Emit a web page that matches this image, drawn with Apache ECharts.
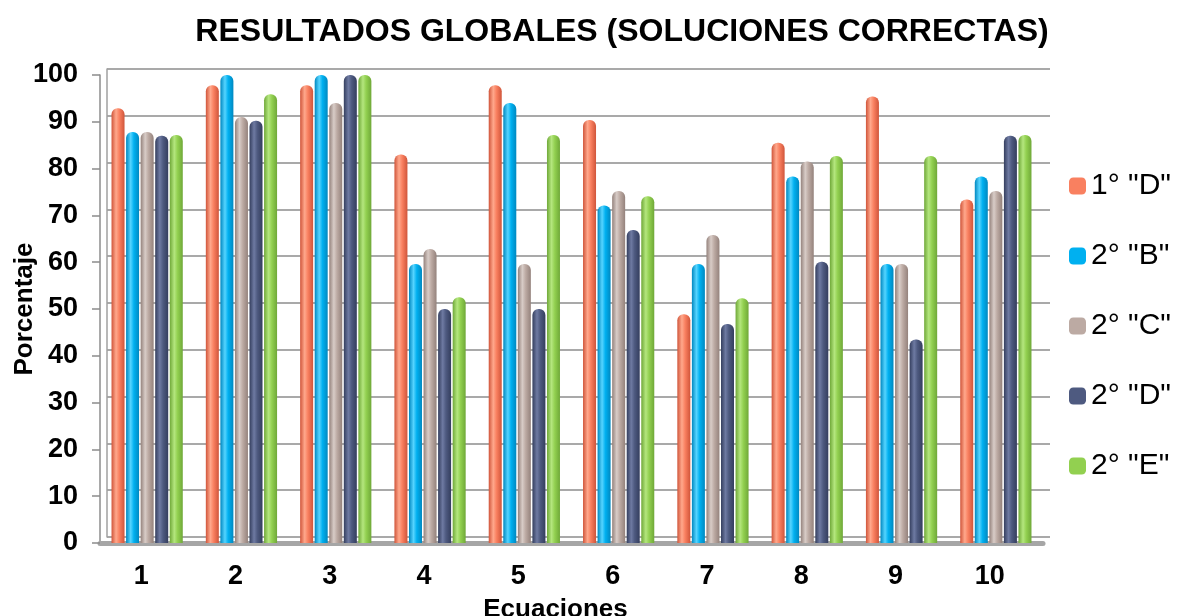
<!DOCTYPE html>
<html>
<head>
<meta charset="utf-8">
<script src="https://cdn.jsdelivr.net/npm/echarts@6/dist/echarts.min.js"></script>
<style>
  html, body { margin: 0; padding: 0; background: #fff; }
  #chart { width: 1182px; height: 616px; }
</style>
</head>
<body>
<div id="chart"></div>
<script>
// datos
const ecuaciones = ["1", "2", "3", "4", "5", "6", "7", "8", "9", "10"];
const grupos = ['1° "D"', '2° "B"', '2° "C"', '2° "D"', '2° "E"'];
const primeroD = [92.9, 97.8, 97.8, 83.0, 97.8, 90.4, 48.9, 85.5, 95.4, 73.4];
const segundoB = [87.8, 100, 100, 59.6, 94.0, 72.1, 59.6, 78.3, 59.6, 78.3];
const segundoC = [87.8, 91.0, 94.0, 62.8, 59.6, 75.2, 65.8, 81.5, 59.6, 75.2];
const segundoD = [87.0, 90.2, 100, 50.0, 50.0, 66.9, 46.8, 60.1, 43.5, 87.0];
const segundoE = [87.2, 95.9, 100, 52.5, 87.2, 74.1, 52.3, 82.7, 82.7, 87.2];
const yTicks = [0, 10, 20, 30, 40, 50, 60, 70, 80, 90, 100];

const colores = ["#F98060", "#00B0F0", "#BCAAA3", "#4E5A80", "#92D050"];
const sombras = ["#D0553A", "#0088C0", "#94827C", "#343E5E", "#6FA838"];
const claros = ["#FFA88C", "#55D4FF", "#D8CCC7", "#6E7AA2", "#B4E67E"];

const fuente = "Liberation Sans";

const chart = echarts.init(document.getElementById("chart"));

function cilindro(i) {
  return new echarts.graphic.LinearGradient(0, 0, 1, 0, [
    { offset: 0, color: sombras[i] },
    { offset: 0.35, color: claros[i] },
    { offset: 0.6, color: colores[i] },
    { offset: 1, color: sombras[i] },
  ]);
}

const valores = [primeroD, segundoB, segundoC, segundoD, segundoE];

const option = {
  backgroundColor: "#fff",
  animation: false,
  title: {
    text: "RESULTADOS GLOBALES (SOLUCIONES CORRECTAS)",
    left: 617,
    textAlign: "center",
    top: 11,
    textStyle: {
      fontFamily: fuente,
      fontSize: 32,
      fontWeight: "bold",
      color: "#000",
    },
  },
  legend: {
    orient: "vertical",
    left: 1064,
    top: 166,
    itemWidth: 17,
    itemHeight: 17,
    itemGap: 40,
    data: grupos.map((g, i) => ({
      name: g,
      itemStyle: { color: colores[i] },
    })),
    textStyle: {
      fontFamily: fuente,
      fontSize: 30,
      color: "#000",
    },
  },
  grid: [
    // barras (frente)
    { left: 100, right: 139, top: 75, bottom: 73, outerBoundsMode: "none" },
    // pared del fondo
    { left: 107, right: 132, top: 69, bottom: 79, outerBoundsMode: "none" },
  ],
  xAxis: [
    {
      type: "category",
      gridIndex: 0,
      data: ecuaciones,
      axisTick: { show: false },
      axisLine: { show: true, lineStyle: { color: "#A6A6A6", width: 5 } },
      axisLabel: {
        fontFamily: fuente,
        fontSize: 27,
        fontWeight: "bold",
        color: "#000",
        margin: 20,
        padding: [0, 12, 0, 0],
      },
      name: "Ecuaciones",
      nameLocation: "middle",
      nameGap: 54,
      nameMoveOverlap: false,
      nameTextStyle: {
        fontFamily: fuente,
        fontSize: 26,
        fontWeight: "bold",
        color: "#000",
        padding: [0, 32, 0, 0],
      },
    },
    {
      type: "category",
      gridIndex: 1,
      data: ecuaciones,
      show: false,
    },
  ],
  yAxis: [
    {
      type: "value",
      gridIndex: 0,
      min: 0,
      max: 100,
      interval: 10,
      splitLine: { show: false },
      axisLine: { show: true, lineStyle: { color: "#8C8C8C", width: 1.5 } },
      axisTick: { show: true, length: 8, lineStyle: { color: "#8C8C8C", width: 1.5 } },
      axisLabel: {
        fontFamily: fuente,
        fontSize: 27,
        fontWeight: "bold",
        color: "#000",
        margin: 22,
        customValues: yTicks,
      },
      name: "Porcentaje",
      nameLocation: "middle",
      nameGap: 62,
      nameMoveOverlap: false,
      nameTextStyle: {
        fontFamily: fuente,
        fontSize: 26,
        fontWeight: "bold",
        color: "#000",
      },
    },
    {
      type: "value",
      gridIndex: 1,
      min: 0,
      max: 100,
      interval: 10,
      axisLabel: { show: false },
      axisTick: { show: false },
      axisLine: { show: true, lineStyle: { color: "#A0A0A0", width: 1.5 } },
      splitLine: { show: true, lineStyle: { color: "#8C8C8C", width: 1.5 } },
    },
  ],
  series: grupos.map((g, i) => ({
    name: g,
    type: "bar",
    xAxisIndex: 0,
    yAxisIndex: 0,
    data: valores[i],
    barWidth: 13,
    barGap: "12%",
    itemStyle: {
      color: cilindro(i),
      borderRadius: [6, 6, 0, 0],
    },
  })),
};

chart.setOption(option);
</script>
</body>
</html>
